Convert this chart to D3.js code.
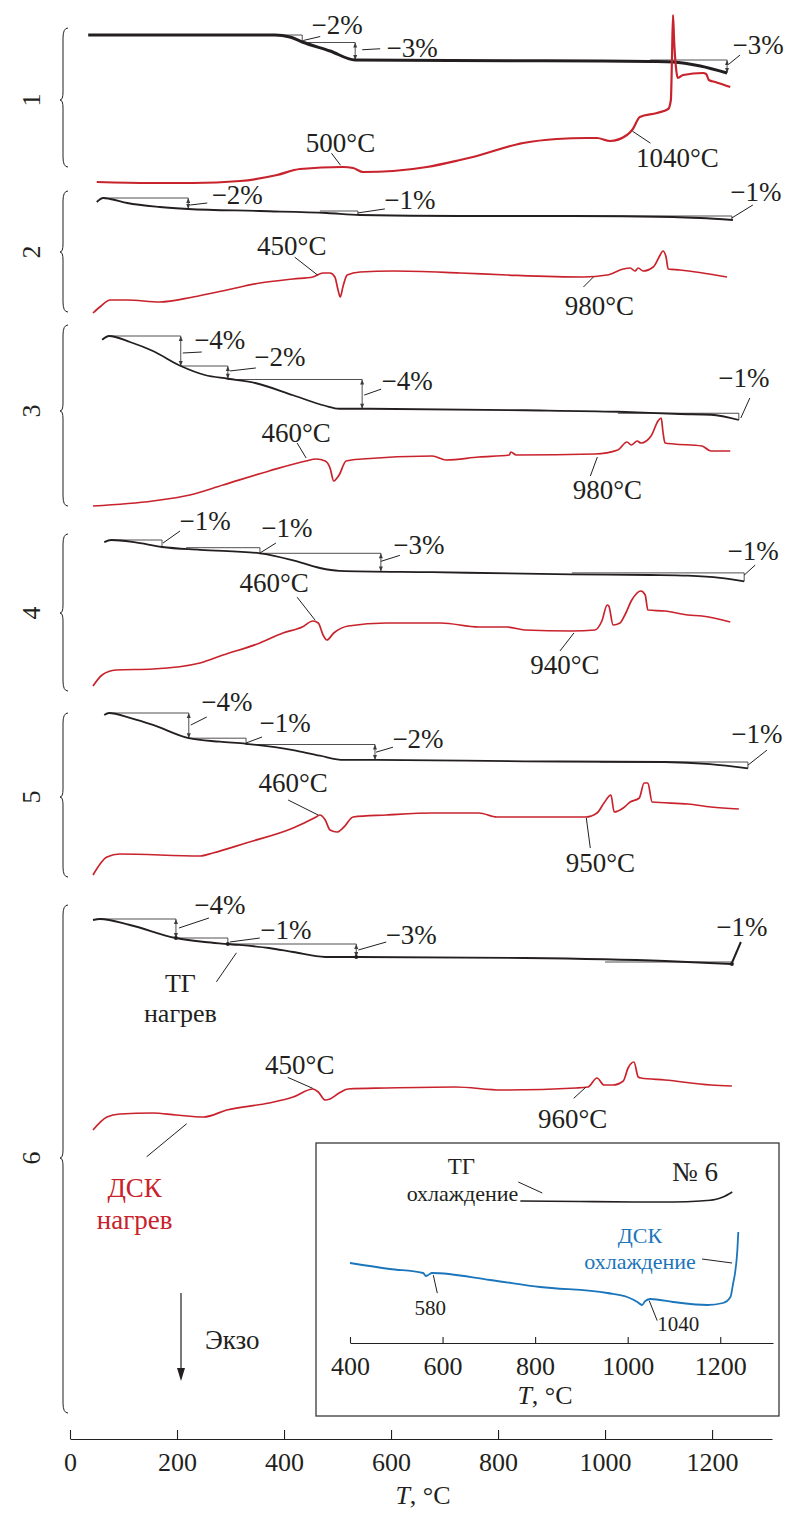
<!DOCTYPE html>
<html>
<head>
<meta charset="utf-8">
<script src="https://cdn.jsdelivr.net/npm/d3@7"></script>
<style>
  body { margin: 0; background: #fff; }
  svg text { font-family: "Liberation Serif", "Times New Roman", serif; fill: #231f20; }
</style>
</head>
<body>
<svg id="chart" width="787" height="1514"></svg>
<script>
// ---------- axis ticks ----------
const tickTemps = [0, 200, 400, 600, 800, 1000, 1200];
const insetTickTemps = [400, 600, 800, 1000, 1200];
const sampleNames = ["1", "2", "3", "4", "5", "6"];

// ---------- sample 1 ----------
const tg1T = [34, 383, 411, 434, 486, 533, 710, 991, 1084, 1127, 1178, 1228];
const tg1M = [100, 100, 99.6, 98.6, 96.8, 95.0, 94.9, 94.8, 94.7, 94.6, 93.8, 92.4];
const dsc1T = [50, 150, 230, 318, 387, 430, 510, 529, 548, 604, 667, 729, 753, 847, 910, 966, 985, 1009, 1041, 1052, 1065, 1097, 1118, 1123, 1125, 1127, 1129, 1133, 1136, 1146, 1183, 1189, 1194, 1206, 1234];
const dsc1S = [3, 2, 2, 4, 10, 16, 18, 17, 13, 14, 18, 25, 28, 42, 46, 47, 47, 44, 50, 56, 68, 72, 76, 85, 125, 170, 145, 115, 107, 110, 112, 111, 105, 103, 98];
const step1Start = [360, 434, 1084];
const step1End = [434, 533, 1228];
const step1Level = [100, 98.5, 95.0];
const step1Label = ["−2%", "−3%", "−3%"];
const peak1T = [500, 1040];

// ---------- sample 2 ----------
const tg2T = [50, 62, 75, 107, 168, 221, 355, 480, 542, 729, 940, 1127, 1178, 1239];
const tg2M = [99.2, 100, 99.8, 99.0, 98.2, 97.8, 97.4, 97.0, 96.6, 96.4, 96.4, 96.2, 96.0, 95.6];
const dsc2T = [43, 58, 75, 107, 168, 230, 293, 355, 417, 454, 473, 486, 495, 501, 505, 510, 518, 542, 604, 729, 817, 959, 1004, 1034, 1047, 1056, 1062, 1071, 1090, 1103, 1108, 1114, 1118, 1140, 1228];
const dsc2S = [2, 9, 15, 15, 13, 18, 25, 32, 36, 38, 42, 42, 38, 25, 18, 28, 40, 43, 44, 42, 40, 38, 40, 46, 47, 44, 47, 44, 48, 60, 64, 58, 46, 45, 38];
const step2Start = [62, 467, 940];
const step2End = [221, 538, 1237];
const step2Level = [100, 97.4, 96.4];
const step2Label = ["−2%", "−1%", "−1%"];
const peak2T = [450, 980];

// ---------- sample 3 ----------
const tg3T = [60, 73, 112, 155, 207, 252, 295, 348, 417, 477, 503, 546, 850, 1024, 1140, 1198, 1250];
const tg3M = [99.5, 100, 99.2, 98.0, 96.0, 94.8, 94.3, 93.7, 92.1, 90.7, 90.3, 90.3, 90.1, 89.9, 89.6, 89.5, 88.8];
const dsc3T = [43, 155, 224, 286, 372, 441, 460, 477, 486, 493, 499, 503, 516, 546, 677, 703, 764, 821, 824, 834, 981, 1024, 1041, 1049, 1060, 1067, 1086, 1099, 1105, 1108, 1112, 1129, 1181, 1198, 1234];
const dsc3S = [2, 7, 13, 23, 37, 47, 49, 47, 40, 27, 30, 33, 47, 49, 52, 48, 51, 53, 56, 53, 54, 58, 66, 63, 67, 65, 72, 87, 90, 77, 65, 64, 62, 57, 57];
const step3Start = [73, 207, 295, 1024];
const step3End = [207, 295, 546, 1250];
const step3Level = [100, 96.0, 94.2, 89.7];
const step3Label = ["−4%", "−2%", "−4%", "−1%"];
const peak3T = [460, 980];

// ---------- sample 4 ----------
const tg4T = [64, 77, 120, 172, 243, 355, 417, 467, 503, 677, 938, 1084, 1155, 1215, 1260];
const tg4M = [99.7, 100, 99.7, 99.0, 98.6, 98.1, 97.1, 96.0, 95.6, 95.4, 95.1, 95.0, 94.9, 94.6, 94.1];
const dsc4T = [43, 60, 86, 155, 243, 286, 355, 398, 434, 454, 464, 473, 480, 493, 520, 591, 693, 764, 817, 850, 938, 981, 994, 1004, 1007, 1015, 1028, 1037, 1050, 1067, 1075, 1080, 1112, 1155, 1181, 1234];
const dsc4S = [4, 15, 20, 21, 27, 35, 47, 57, 63, 69, 67, 55, 50, 57, 64, 67, 67, 63, 63, 60, 59, 60, 69, 85, 84, 65, 67, 75, 90, 99, 95, 80, 79, 75, 74, 68];
const step4Start = [77, 217, 355, 938];
const step4End = [172, 355, 581, 1260];
const step4Level = [100, 98.9, 98.1, 95.3];
const step4Label = ["−1%", "−1%", "−3%", "−1%"];
const peak4T = [460, 940];

// ---------- sample 5 ----------
const tg5T = [64, 73, 112, 155, 222, 280, 329, 417, 467, 512, 572, 850, 1112, 1196, 1267];
const tg5M = [99.7, 100, 99.3, 98.3, 96.4, 95.9, 95.6, 94.7, 93.9, 93.3, 93.3, 93.1, 93.0, 92.7, 92.1];
const dsc5T = [43, 69, 93, 243, 267, 329, 417, 460, 467, 477, 486, 499, 512, 529, 591, 677, 764, 798, 850, 964, 985, 998, 1011, 1017, 1034, 1047, 1064, 1073, 1080, 1088, 1155, 1198, 1250];
const dsc5S = [2, 20, 23, 21, 24, 34, 49, 60, 62, 57, 47, 45, 50, 60, 62, 64, 64, 60, 60, 60, 64, 74, 82, 65, 69, 75, 79, 94, 94, 75, 73, 70, 68];
const step5Start = [73, 222, 329, 990];
const step5End = [222, 329, 570, 1267];
const step5Level = [100, 96.4, 95.5, 93.0];
const step5Label = ["−4%", "−1%", "−2%", "−1%"];
const peak5T = [460, 950];

// ---------- sample 6 ----------
const tg6T = [43, 56, 112, 198, 252, 295, 372, 417, 477, 538, 850, 1112, 1237];
const tg6M = [99.8, 100, 98.8, 96.2, 95.4, 95.0, 94.2, 93.4, 92.4, 92.4, 92.2, 91.6, 91.0];
const dsc6T = [43, 69, 93, 155, 198, 250, 293, 372, 417, 454, 464, 477, 486, 503, 520, 591, 720, 807, 946, 968, 985, 998, 1015, 1034, 1043, 1054, 1062, 1067, 1112, 1198, 1237];
const dsc6S = [2, 15, 18, 19, 17, 15, 22, 29, 35, 43, 40, 32, 33, 39, 43, 44, 45, 42, 44, 45, 54, 47, 47, 51, 64, 70, 55, 54, 52, 47, 46];
const step6Start = [56, 198, 295, 1000];
const step6End = [198, 295, 535, 1237];
const step6Level = [100, 96.2, 95.0, 91.4];
const step6Label = ["−4%", "−1%", "−3%", "−1%"];
const peak6T = [450, 960];

// ---------- sample 6, cooling (inset) ----------
const coolTgT = [768, 897, 1027, 1098, 1157, 1189, 1206, 1226];
const coolTgM = [0.2, 0.1, 0, 0, 0.2, 0.5, 1.0, 2.0];
const coolDscT = [400, 486, 558, 564, 569, 577, 703, 811, 956, 999, 1021, 1031, 1038, 1049, 1098, 1172, 1206, 1222, 1228, 1232, 1237, 1239];
const coolDscS = [47, 41, 37, 34, 35, 37, 30, 23, 17, 13, 8, 5, 9, 11, 8, 5, 7, 13, 27, 37, 60, 78];
const coolPeakT = [580, 1040];

// ---------- assemble ----------
const samples = [
  { tgT: tg1T, tgM: tg1M, dscT: dsc1T, dscS: dsc1S, s0: step1Start, s1: step1End, lev: step1Level, lab: step1Label, peaks: peak1T },
  { tgT: tg2T, tgM: tg2M, dscT: dsc2T, dscS: dsc2S, s0: step2Start, s1: step2End, lev: step2Level, lab: step2Label, peaks: peak2T },
  { tgT: tg3T, tgM: tg3M, dscT: dsc3T, dscS: dsc3S, s0: step3Start, s1: step3End, lev: step3Level, lab: step3Label, peaks: peak3T },
  { tgT: tg4T, tgM: tg4M, dscT: dsc4T, dscS: dsc4S, s0: step4Start, s1: step4End, lev: step4Level, lab: step4Label, peaks: peak4T },
  { tgT: tg5T, tgM: tg5M, dscT: dsc5T, dscS: dsc5S, s0: step5Start, s1: step5End, lev: step5Level, lab: step5Label, peaks: peak5T },
  { tgT: tg6T, tgM: tg6M, dscT: dsc6T, dscS: dsc6S, s0: step6Start, s1: step6End, lev: step6Level, lab: step6Label, peaks: peak6T }
];

// Layout of the stacked panels: TG band top, px per mass %, DSC baseline, brace,
// leader/label offsets [leader dx1, dy1, dx2, dy2, label dx, dy].
const layout = [
  { tgTop: 35, tgK: 5, dscBase: 185, brace: [28, 167, 100], tgW: 3, dscW: 2.2,
    steps: [[1, 2, 18, -2, 35, -14], [7, -1.5, 25, -2.5, 57, -3.5], [2, -2.5, 13, -11.5, 31, -21.5]],
    peaks: [[3, -2, -6, -14, 3, -25], [6, -4, 24, 8, 51, 22]] },
  { tgTop: 198, tgK: 5, dscBase: 315, brace: [191, 312, 252], tgW: 1.8, dscW: 1.7,
    steps: [[2, 1.5, 19, -0.5, 49, -8.5], [0, 0, 27, -4, 52, -13], [0, 0, 21, -13, 24, -26]],
    peaks: [[7, -2, -16, -20, -19, -32], [-1, 1, -11, 11, 5, 29]] },
  { tgTop: 336, tgK: 7.5, dscBase: 508, brace: [325, 506, 411], tgW: 1.8, dscW: 1.7,
    steps: [[2, 2, 21, 1, 39, -11], [2, -1.4, 28, -4.4, 52, -15.4], [2, 1, 19, -5, 45, -14], [2, 1.4, 11, -18.6, 5, -38.6]],
    peaks: [[-10, -1, -19, -16, -20, -26], [3, 3, -4, 22, 13, 36]] },
  { tgTop: 540, tgK: 7, dscBase: 690, brace: [534, 691, 613], tgW: 1.8, dscW: 1.7,
    steps: [[1, -0.5, 18, -12.5, 43, -22.5], [0, 2.5, 16, -7.5, 27, -22.5], [0, -1, 19, -7, 38, -18], [0, -2, 11, -12, 9, -27]],
    peaks: [[-1, -2, -19, -25, -42, -40], [1, 2, -13, 20, -8, 34]] },
  { tgTop: 713, tgK: 7, dscBase: 877, brace: [713, 877, 797], tgW: 1.8, dscW: 1.7,
    steps: [[2, -0.6, 18, -8.6, 38, -23.6], [0, 2, 16, -4, 39, -18], [1, 0, 18, -5, 43, -14], [0, 0, 19, -15, 9, -32]],
    peaks: [[2, -2, -28, -17, -23, -34], [8, 1, 12, 31, 22, 46]] },
  { tgTop: 919, tgK: 5, dscBase: 1132, brace: [905, 1413, 1158], tgW: 1.8, dscW: 1.7,
    steps: [[3, -0.5, 33, -10.5, 44, -23.5], [2, 1, 32, -3, 58, -11], [2, -0.5, 30, -8.5, 55, -15.5], [0, 0, 9, -21, 10, -36]],
    peaks: [[2, -1.5, -23, -12.5, -11, -25.5], [2, 0, -10, 11, -11, 31]], dots: true }
];

const RED = "#c8232c", BLUE = "#1b75bb", INK = "#231f20", REF = "#3c3c3c";
const LABEL = 27, TICK = 26;
const svg = d3.select("#chart");

const x = d3.scaleLinear().domain([0, 1312]).range([70, 772]);

function interp(ts, vs, t) {
  const i = d3.bisectRight(ts, t);
  if (i <= 0) return vs[0];
  if (i >= ts.length) return vs[vs.length - 1];
  const a = (t - ts[i - 1]) / (ts[i] - ts[i - 1]);
  return vs[i - 1] + a * (vs[i] - vs[i - 1]);
}

function bracePath(xTip, y0, y1, yMid) {
  const xb = xTip + 3, xe = xTip + 8;
  return `M${xe},${y0} Q${xb},${y0} ${xb},${y0 + 10} L${xb},${yMid - 8} Q${xb},${yMid} ${xTip},${yMid}` +
         ` Q${xb},${yMid} ${xb},${yMid + 8} L${xb},${y1 - 10} Q${xb},${y1} ${xe},${y1}`;
}

function doubleArrow(g, xp, ya, yb) {
  g.append("line").attr("x1", xp).attr("x2", xp).attr("y1", ya).attr("y2", yb)
    .attr("stroke", REF).attr("stroke-width", 0.9);
  if (Math.abs(yb - ya) > 9) {
    const d = yb > ya ? 1 : -1;
    g.append("path").attr("d", `M${xp},${ya} L${xp - 2},${ya + 5 * d} L${xp + 2},${ya + 5 * d} Z`).attr("fill", REF);
    g.append("path").attr("d", `M${xp},${yb} L${xp - 2},${yb - 5 * d} L${xp + 2},${yb - 5 * d} Z`).attr("fill", REF);
  }
}

function text(g, xp, yp, str, size, color, anchor) {
  return g.append("text").attr("x", xp).attr("y", yp).attr("dy", "0.35em")
    .attr("text-anchor", anchor || "middle").attr("font-size", size)
    .style("fill", color || INK).text(str);
}

samples.forEach((S, i) => {
  const L = layout[i];
  const g = svg.append("g");
  const yTg = d3.scaleLinear().domain([100, 90]).range([L.tgTop, L.tgTop + 10 * L.tgK]);
  const yDsc = d3.scaleLinear().domain([0, 100]).range([L.dscBase, L.dscBase - 100]);

  // brace and sample number
  g.append("path").attr("d", bracePath(60, L.brace[0], L.brace[1], L.brace[2]))
    .attr("fill", "none").attr("stroke", INK).attr("stroke-width", 1);
  g.append("text").attr("transform", `translate(31,${L.brace[2]}) rotate(-90)`)
    .attr("text-anchor", "middle").attr("dy", "0.35em").attr("font-size", 26).text(sampleNames[i]);

  // mass-loss steps
  S.s1.forEach((t1, k) => {
    const xs = x(S.s0[k]), xe = x(t1);
    const yl = yTg(S.lev[k]), yc = yTg(interp(S.tgT, S.tgM, t1));
    g.append("line").attr("x1", xs).attr("x2", xe).attr("y1", yl).attr("y2", yl)
      .attr("stroke", REF).attr("stroke-width", 0.9);
    doubleArrow(g, xe, yl, yc);
    const ym = (yl + yc) / 2, o = L.steps[k];
    g.append("line").attr("x1", xe + o[0]).attr("y1", ym + o[1]).attr("x2", xe + o[2]).attr("y2", ym + o[3])
      .attr("stroke", INK).attr("stroke-width", (L.dots && k === 3) ? 2 : 1);
    text(g, xe + o[4], ym + o[5], S.lab[k], LABEL);
    if (L.dots) {
      g.append("circle").attr("cx", xe).attr("cy", yc).attr("r", 2).attr("fill", INK);
    }
  });

  // TG curve
  const tgLine = d3.line().x(d => x(d[0])).y(d => yTg(d[1])).curve(d3.curveMonotoneX);
  g.append("path").attr("d", tgLine(d3.zip(S.tgT, S.tgM)))
    .attr("fill", "none").attr("stroke", INK).attr("stroke-width", L.tgW).attr("stroke-linejoin", "round");

  // DSC curve
  const dscLine = d3.line().x(d => x(d[0])).y(d => yDsc(d[1])).curve(d3.curveMonotoneX);
  g.append("path").attr("d", dscLine(d3.zip(S.dscT, S.dscS)))
    .attr("fill", "none").attr("stroke", RED).attr("stroke-width", L.dscW).attr("stroke-linejoin", "round");

  // thermal event labels
  S.peaks.forEach((t, k) => {
    const xa = x(t), ya = yDsc(interp(S.dscT, S.dscS, t)), o = L.peaks[k];
    g.append("line").attr("x1", xa + o[0]).attr("y1", ya + o[1]).attr("x2", xa + o[2]).attr("y2", ya + o[3])
      .attr("stroke", INK).attr("stroke-width", 1);
    text(g, xa + o[4], ya + o[5], `${t}°C`, LABEL);
  });

  // curve captions for sample 6
  if (i === 5) {
    const tA = 311, xa = x(tA), ya = yTg(interp(S.tgT, S.tgM, tA));
    g.append("line").attr("x1", xa).attr("y1", ya + 8).attr("x2", xa - 20).attr("y2", ya + 37)
      .attr("stroke", INK).attr("stroke-width", 1);
    text(g, xa - 56, ya + 38, "ТГ", 26);
    text(g, xa - 56, ya + 68, "нагрев", 26);
    const tB = 218, xb = x(tB), yb = yDsc(interp(S.dscT, S.dscS, tB));
    g.append("line").attr("x1", xb).attr("y1", yb + 8).attr("x2", xb - 40).attr("y2", yb + 41)
      .attr("stroke", INK).attr("stroke-width", 1);
    text(g, xb - 52, yb + 72, "ДСК", LABEL, RED);
    text(g, xb - 52, yb + 104, "нагрев", LABEL, RED);
  }
});

// ---------- main temperature axis ----------
const axisY = 1439;
const ax = svg.append("g").attr("transform", `translate(0,${axisY})`)
  .call(d3.axisBottom(x).tickValues(tickTemps).tickFormat(d3.format("d"))
    .tickSizeInner(-9).tickSizeOuter(0).tickPadding(14));
ax.attr("font-family", null).attr("font-size", null);
ax.selectAll("path, line").attr("stroke", INK).attr("stroke-width", 1.1);
ax.selectAll("text").attr("font-size", TICK).style("fill", INK);
const title = svg.append("text").attr("x", 423).attr("y", 1495).attr("dy", "0.35em")
  .attr("text-anchor", "middle").attr("font-size", TICK);
title.append("tspan").attr("font-style", "italic").text("T");
title.append("tspan").text(", °C");

// ---------- exo arrow ----------
svg.append("line").attr("x1", 181).attr("x2", 181).attr("y1", 1293).attr("y2", 1370)
  .attr("stroke", INK).attr("stroke-width", 1.2);
svg.append("path").attr("d", "M181,1381 L177,1368 L185,1368 Z").attr("fill", INK);
text(svg, 205, 1340, "Экзо", LABEL, INK, "start");

// ---------- inset: cooling of sample 6 ----------
const inset = svg.append("g");
inset.append("rect").attr("x", 316).attr("y", 1143).attr("width", 463).attr("height", 273)
  .attr("fill", "#fff").attr("stroke", "#3a3a3a").attr("stroke-width", 1.3);
const xi = d3.scaleLinear().domain([400, 1314]).range([350, 773]);
const yiTg = d3.scaleLinear().domain([0, 2]).range([1202, 1192]);
const yiDsc = d3.scaleLinear().domain([0, 100]).range([1310, 1210]);

inset.append("path")
  .attr("d", d3.line().x(d => xi(d[0])).y(d => yiTg(d[1])).curve(d3.curveMonotoneX)(d3.zip(coolTgT, coolTgM)))
  .attr("fill", "none").attr("stroke", INK).attr("stroke-width", 1.6);
inset.append("path")
  .attr("d", d3.line().x(d => xi(d[0])).y(d => yiDsc(d[1])).curve(d3.curveMonotoneX)(d3.zip(coolDscT, coolDscS)))
  .attr("fill", "none").attr("stroke", BLUE).attr("stroke-width", 1.8);

// TG cooling caption
{
  const xa = xi(coolTgT[0]), ya = yiTg(coolTgM[0]);
  inset.append("line").attr("x1", xa - 2).attr("y1", ya - 19).attr("x2", xa + 22).attr("y2", ya - 8)
    .attr("stroke", INK).attr("stroke-width", 1);
  text(inset, xa - 59, ya - 35, "ТГ", 23);
  text(inset, xa - 2, ya - 8, "охлаждение", 22, INK, "end");
}
// DSC cooling caption
{
  const tA = 1232, xa = xi(tA), ya = yiDsc(interp(coolDscT, coolDscS, tA));
  inset.append("line").attr("x1", xa - 33).attr("y1", ya - 14).attr("x2", xa - 3).attr("y2", ya - 10)
    .attr("stroke", INK).attr("stroke-width", 1);
  text(inset, xa - 95, ya - 38, "ДСК", 22, BLUE);
  text(inset, xa - 95, ya - 12, "охлаждение", 22, BLUE);
}
// cooling events
const coolOffsets = [[0, 2, 4, 20, -3, 34], [3, 0, 11, 20, 32, 23]];
coolPeakT.forEach((t, k) => {
  const xa = xi(t), ya = yiDsc(interp(coolDscT, coolDscS, t)), o = coolOffsets[k];
  inset.append("line").attr("x1", xa + o[0]).attr("y1", ya + o[1]).attr("x2", xa + o[2]).attr("y2", ya + o[3])
    .attr("stroke", INK).attr("stroke-width", 1);
  text(inset, xa + o[4], ya + o[5], String(t), 21);
});
text(inset, 695, 1172, "№ 6", 27);

const iax = inset.append("g").attr("transform", "translate(0,1343)")
  .call(d3.axisBottom(xi).tickValues(insetTickTemps).tickFormat(d3.format("d"))
    .tickSizeInner(-6).tickSizeOuter(0).tickPadding(14));
iax.attr("font-family", null).attr("font-size", null);
iax.selectAll("path, line").attr("stroke", INK).attr("stroke-width", 1.1);
iax.selectAll("text").attr("font-size", TICK).style("fill", INK);
const ititle = inset.append("text").attr("x", 545).attr("y", 1395).attr("dy", "0.35em")
  .attr("text-anchor", "middle").attr("font-size", TICK);
ititle.append("tspan").attr("font-style", "italic").text("T");
ititle.append("tspan").text(", °C");
</script>
</body>
</html>
